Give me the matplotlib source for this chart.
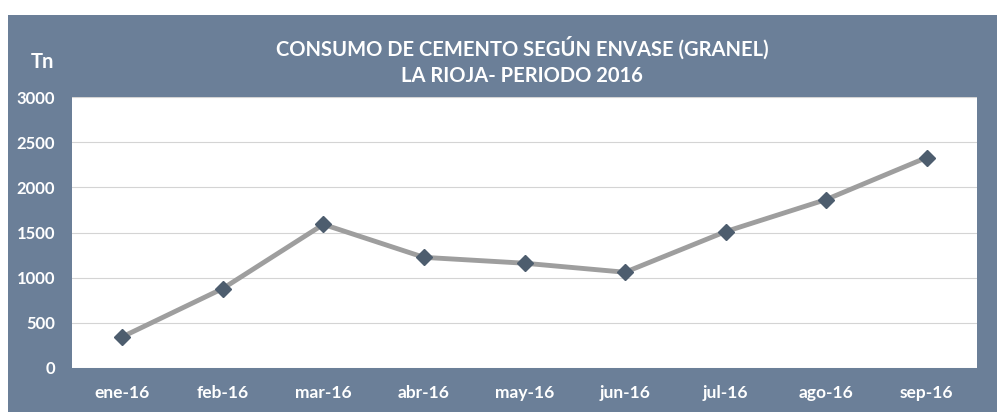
import matplotlib.pyplot as plt
from matplotlib.patches import Rectangle

# data
meses = ['ene-16', 'feb-16', 'mar-16', 'abr-16', 'may-16', 'jun-16', 'jul-16', 'ago-16', 'sep-16']
toneladas = [345, 880, 1590, 1225, 1160, 1060, 1510, 1865, 2330]
yticks = [0, 500, 1000, 1500, 2000, 2500, 3000]

panel_color = '#6b7f98'
plt.rcParams['font.family'] = ['Lato', 'DejaVu Sans']

fig = plt.figure(figsize=(9.97, 4.12), dpi=100)
fig.patch.set_facecolor('white')

# blue-grey background panel (behind the axes)
fig.patches.append(Rectangle((8/997, 0), 1 - 8/997, 1 - 15/412,
                             transform=fig.transFigure, facecolor=panel_color,
                             edgecolor='none', zorder=-10))

ax = fig.add_axes([72/997, 44/412, 905/997, 271/412])
ax.set_facecolor('white')

x = list(range(len(meses)))
ax.plot(x, toneladas, color='#9e9e9e', lw=3.5, zorder=3)
ax.plot(x, toneladas, ls='none', marker='D', ms=8, color='#4d5d6e', zorder=4)

ax.set_xlim(-0.5, len(meses) - 0.5)
ax.set_ylim(0, 3000)
ax.set_yticks(yticks)
ax.set_yticklabels([str(v) for v in yticks])
ax.set_xticks(x)
ax.set_xticklabels(meses)
ax.grid(axis='y', color='#d4d4d4', lw=0.8)
ax.set_axisbelow(True)
ax.tick_params(length=0, colors='white', pad=12)
ax.tick_params(axis='x', labelsize=12.5)
ax.tick_params(axis='y', labelsize=12)
for lab in ax.get_xticklabels() + ax.get_yticklabels():
    lab.set_fontweight('bold')
for s in ax.spines.values():
    s.set_visible(False)

fig.text(522/997, 1 - 48/412, 'CONSUMO DE CEMENTO SEGÚN ENVASE (GRANEL)',
         ha='center', va='center', color='white', fontsize=14.5, fontweight='bold')
fig.text(522/997, 1 - 76/412, 'LA RIOJA- PERIODO 2016',
         ha='center', va='center', color='white', fontsize=14.5, fontweight='bold')
fig.text(42/997, 1 - 62/412, 'Tn', ha='center', va='center', color='white',
         fontsize=14.5, fontweight='bold')

fig.savefig('out.png', dpi=100, facecolor=fig.get_facecolor())
